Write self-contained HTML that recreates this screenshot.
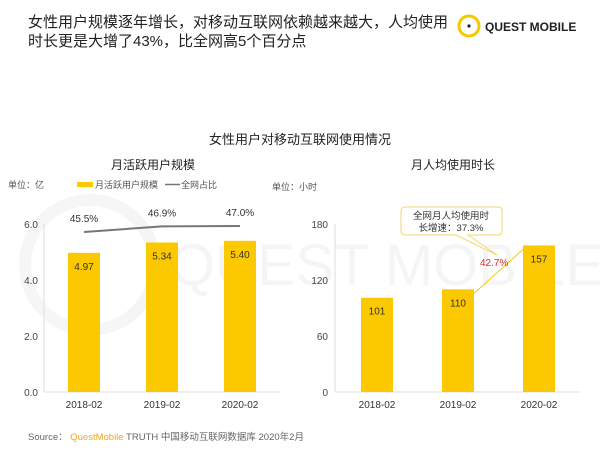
<!DOCTYPE html>
<html><head><meta charset="utf-8"><style>
body{margin:0;width:600px;height:450px;background:#fff;overflow:hidden;font-family:"Liberation Sans","Noto Sans CJK SC",sans-serif;}
svg{position:absolute;left:0;top:0}
</style></head><body>
<svg width="600" height="450" font-family="Liberation Sans, Noto Sans CJK SC, sans-serif">
<g opacity="0.035">
<circle cx="90" cy="265" r="65" fill="none" stroke="#000" stroke-width="12"/>
<text x="170" y="285" font-size="58" fill="#000">QUEST MOBILE</text>
</g>
<text x="28" y="27" font-size="15" fill="#222">女性用户规模逐年增长，对移动互联网依赖越来越大，人均使用</text>
<text x="28" y="46" font-size="15" fill="#222">时长更是大增了43%，比全网高5个百分点</text>
<g>
<circle cx="469" cy="26" r="10" fill="none" stroke="#f5c800" stroke-width="3"/>
<circle cx="469" cy="26" r="1.6" fill="#222"/>
<text x="485" y="31" font-size="12" font-weight="bold" fill="#222">QUEST MOBILE</text>
</g>
<text x="300" y="144" font-size="13" fill="#222" text-anchor="middle">女性用户对移动互联网使用情况</text>
<text x="153" y="169" font-size="12" fill="#222" text-anchor="middle">月活跃用户规模</text>
<text x="453" y="169" font-size="12" fill="#222" text-anchor="middle">月人均使用时长</text>
<text x="8" y="188" font-size="9" fill="#555">单位：亿</text>
<rect x="77" y="182" width="16" height="5" fill="#fcc800"/>
<text x="95" y="188" font-size="9" fill="#555">月活跃用户规模</text>
<line x1="165" y1="184.5" x2="180" y2="184.5" stroke="#777" stroke-width="1.5"/>
<text x="181" y="188" font-size="9" fill="#555">全网占比</text>
<text x="272" y="190" font-size="9" fill="#555">单位：小时</text>
<g id="left"></g><g id="right"></g>
<text x="28" y="440" font-size="9.5" fill="#666">Source：<tspan fill="#f5a623"> QuestMobile</tspan> TRUTH 中国移动互联网数据库 2020年2月</text>
</svg>
<script>
const cats=["2018-02","2019-02","2020-02"];
const mau=[4.97,5.34,5.40];
const share=[45.5,46.9,47.0];
const hours=[101,110,157];
const leftTicks=["0.0","2.0","4.0","6.0"];
const rightTicks=["0","60","120","180"];
const growth="42.7%";
const NS="http://www.w3.org/2000/svg";
function mk(p,t,a,txt){const e=document.createElementNS(NS,t);for(const k in a)e.setAttribute(k,a[k]);if(txt!=null)e.textContent=txt;p.appendChild(e);return e;}
const yBase=392,yTop=224;
function yL(v){return yBase-(v/6)*(yBase-yTop);}
function yR(v){return yBase-(v/180)*(yBase-yTop);}
function yS(v){return 232-(v-45.5)*4;}
const L=document.getElementById('left'),R=document.getElementById('right');
const xL=i=>84+i*78, xR=i=>377+i*81;
let e;
e=mk(L,'line',{x1:44,y1:yTop,x2:44,y2:yBase,stroke:'#ddd'});
e=mk(L,'line',{x1:44,y1:yBase,x2:280,y2:yBase,stroke:'#ddd'});
leftTicks.forEach(t=>{e=mk(L,'text',{x:38,y:yL(+t)+4,'font-size':10,fill:'#444','text-anchor':'end'},t);});
mau.forEach((v,i)=>{
e=mk(L,'rect',{x:xL(i)-16,y:yL(v),width:32,height:yBase-yL(v),fill:'#fcc800'});


e=mk(L,'text',{x:xL(i),y:yL(v)+17,'font-size':10,fill:'#333','text-anchor':'middle'},v.toFixed(2));


e=mk(L,'text',{x:xL(i),y:408,'font-size':10,fill:'#333','text-anchor':'middle'},cats[i]);


e=mk(L,'text',{x:xL(i),y:yS(share[i])-10,'font-size':10,fill:'#333','text-anchor':'middle'},share[i].toFixed(1)+'%');


});
e=mk(L,'polyline',{points:share.map((v,i)=>xL(i)+','+yS(v)).join(' '),fill:'none',stroke:'#777','stroke-width':2});


e=mk(R,'line',{x1:335,y1:yTop,x2:335,y2:yBase,stroke:'#ddd'});
e=mk(R,'line',{x1:335,y1:yBase,x2:580,y2:yBase,stroke:'#ddd'});
rightTicks.forEach(t=>{e=mk(R,'text',{x:328,y:yR(+t)+4,'font-size':10,fill:'#444','text-anchor':'end'},t);});
hours.forEach((v,i)=>{
e=mk(R,'rect',{x:xR(i)-16,y:yR(v),width:32,height:yBase-yR(v),fill:'#fcc800'});


e=mk(R,'text',{x:xR(i),y:yR(v)+17,'font-size':10,fill:'#333','text-anchor':'middle'},String(v));


e=mk(R,'text',{x:xR(i),y:408,'font-size':10,fill:'#333','text-anchor':'middle'},cats[i]);


});
e=mk(R,'line',{x1:xR(1)+16,y1:yR(hours[1])+4,x2:xR(2)-16,y2:yR(hours[2])+4,stroke:'#fcc800','stroke-width':1});


e=mk(R,'text',{x:480,y:266,'font-size':10,fill:'#e03030'},growth);


e=mk(R,'path',{d:'M406,207 H498 Q502,207 502,211 V231 Q502,235 498,235 H468 L497,255 L456,235 H406 Q401,235 401,231 V211 Q401,207 406,207 Z',fill:'#fff',stroke:'#f5d76e'});


e=mk(R,'text',{x:451,y:219,'font-size':9.5,fill:'#333','text-anchor':'middle'},'全网月人均使用时');


e=mk(R,'text',{x:451,y:231,'font-size':9.5,fill:'#333','text-anchor':'middle'},'长增速：37.3%');


</script>
</body></html>
